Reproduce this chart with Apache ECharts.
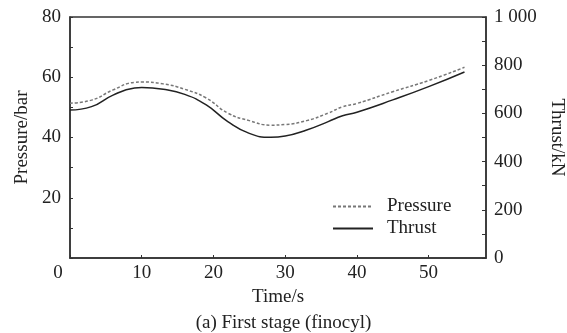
<!DOCTYPE html>
<html>
<head>
<meta charset="utf-8">
<script src="https://cdn.jsdelivr.net/npm/echarts@6/dist/echarts.min.js"></script>
<style>
  html, body { margin: 0; padding: 0; background: #fff; }
  #main { width: 567px; height: 333px; }
</style>
</head>
<body>
<div id="main"></div>
<script>
// time (s)
const time = [0, 3, 6, 9, 10, 13, 16, 19, 22, 25, 28, 30, 33, 36, 38, 40, 45, 50, 55];
// chamber pressure (bar), dashed
const pressure = [51.4, 52.4, 55.8, 58.3, 58.4, 57.8, 56.0, 53.1, 48.1, 45.6, 44.1, 44.3, 45.6, 48.1, 50.2, 51.3, 55.2, 58.9, 63.3];
// thrust (kN), solid
const thrust = [614, 628, 676, 705, 707, 700, 679, 635, 566, 517, 501, 506, 531, 566, 590, 605, 656, 711, 772];

const font = "Liberation Serif";
const ink = "#333";

const toPairs = (ys) => time.map((t, i) => [t, ys[i]]);

const chartDom = document.getElementById("main");
const myChart = echarts.init(chartDom);

const option = {
  animation: false,
  textStyle: { fontFamily: font, color: "#222" },
  title: {
    text: "(a) First stage (finocyl)",
    left: "center",
    top: 309,
    textStyle: { fontFamily: font, fontSize: 19, fontWeight: "normal", color: "#222" },
  },
  legend: {
    orient: "vertical",
    left: 327,
    top: 192,
    itemWidth: 40,
    itemHeight: 19,
    itemGap: 3,
    itemStyle: { opacity: 0 },
    textStyle: { fontFamily: font, fontSize: 19, color: "#222", padding: [0, 0, 0, 9] },
    data: ["Pressure", "Thrust"],
  },
  grid: {
    left: 70,
    right: 81,
    top: 17,
    bottom: 75,
    outerBoundsMode: "none",
    show: true,
    borderColor: ink,
    borderWidth: 1.5,
  },
  xAxis: {
    type: "value",
    min: 0,
    max: 58,
    interval: 10,
    name: "Time/s",
    nameLocation: "middle",
    nameGap: 29,
    nameTextStyle: { fontFamily: font, fontSize: 19, color: "#222" },
    axisLine: { lineStyle: { color: ink, width: 1.5 } },
    axisTick: { inside: true, length: 3, lineStyle: { color: ink } },
    axisLabel: {
      fontFamily: font,
      fontSize: 19,
      color: "#222",
      margin: 6,
      showMaxLabel: false,
      formatter: (v) => (v === 0 ? "{z|0}" : String(v)),
      rich: { z: { fontFamily: font, fontSize: 19, color: "#222", padding: [0, 24, 0, 0] } },
    },
    splitLine: { show: false },
  },
  yAxis: [
    {
      type: "value",
      min: 0,
      max: 80,
      interval: 20,
      name: "Pressure/bar",
      nameLocation: "middle",
      nameGap: 37,
      nameTextStyle: { fontFamily: font, fontSize: 19, color: "#222" },
      axisLine: { show: true, lineStyle: { color: ink, width: 1.5 } },
      axisTick: { show: true, inside: true, length: 3, lineStyle: { color: ink } },
      minorTick: { show: true, splitNumber: 2, length: 3, lineStyle: { color: ink } },
      axisLabel: {
        fontFamily: font,
        fontSize: 19,
        color: "#222",
        margin: 9,
        formatter: (v) => (v === 0 ? "" : String(v)),
      },
      splitLine: { show: false },
    },
    {
      type: "value",
      position: "right",
      min: 0,
      max: 1000,
      interval: 200,
      name: "Thrust/kN",
      nameLocation: "middle",
      nameRotate: -90,
      nameGap: 48,
      nameTextStyle: { fontFamily: font, fontSize: 19, color: "#222" },
      axisLine: { show: true, lineStyle: { color: ink, width: 1.5 } },
      axisTick: { show: true, inside: true, length: 4, lineStyle: { color: ink } },
      minorTick: { show: true, splitNumber: 2, length: 4, lineStyle: { color: ink } },
      axisLabel: {
        fontFamily: font,
        fontSize: 19,
        color: "#222",
        margin: 8,
        formatter: (v) => (v >= 1000 ? "1 000" : String(v)),
      },
      splitLine: { show: false },
    },
  ],
  series: [
    {
      name: "Pressure",
      type: "line",
      yAxisIndex: 0,
      smooth: true,
      symbol: "none",
      color: "#777",
      lineStyle: { color: "#777", width: 1.5, type: [3, 2] },
      data: toPairs(pressure),
    },
    {
      name: "Thrust",
      type: "line",
      yAxisIndex: 1,
      smooth: true,
      symbol: "none",
      color: "#222",
      lineStyle: { color: "#222", width: 1.5 },
      data: toPairs(thrust),
    },
  ],
};

myChart.setOption(option);
</script>
</body>
</html>
